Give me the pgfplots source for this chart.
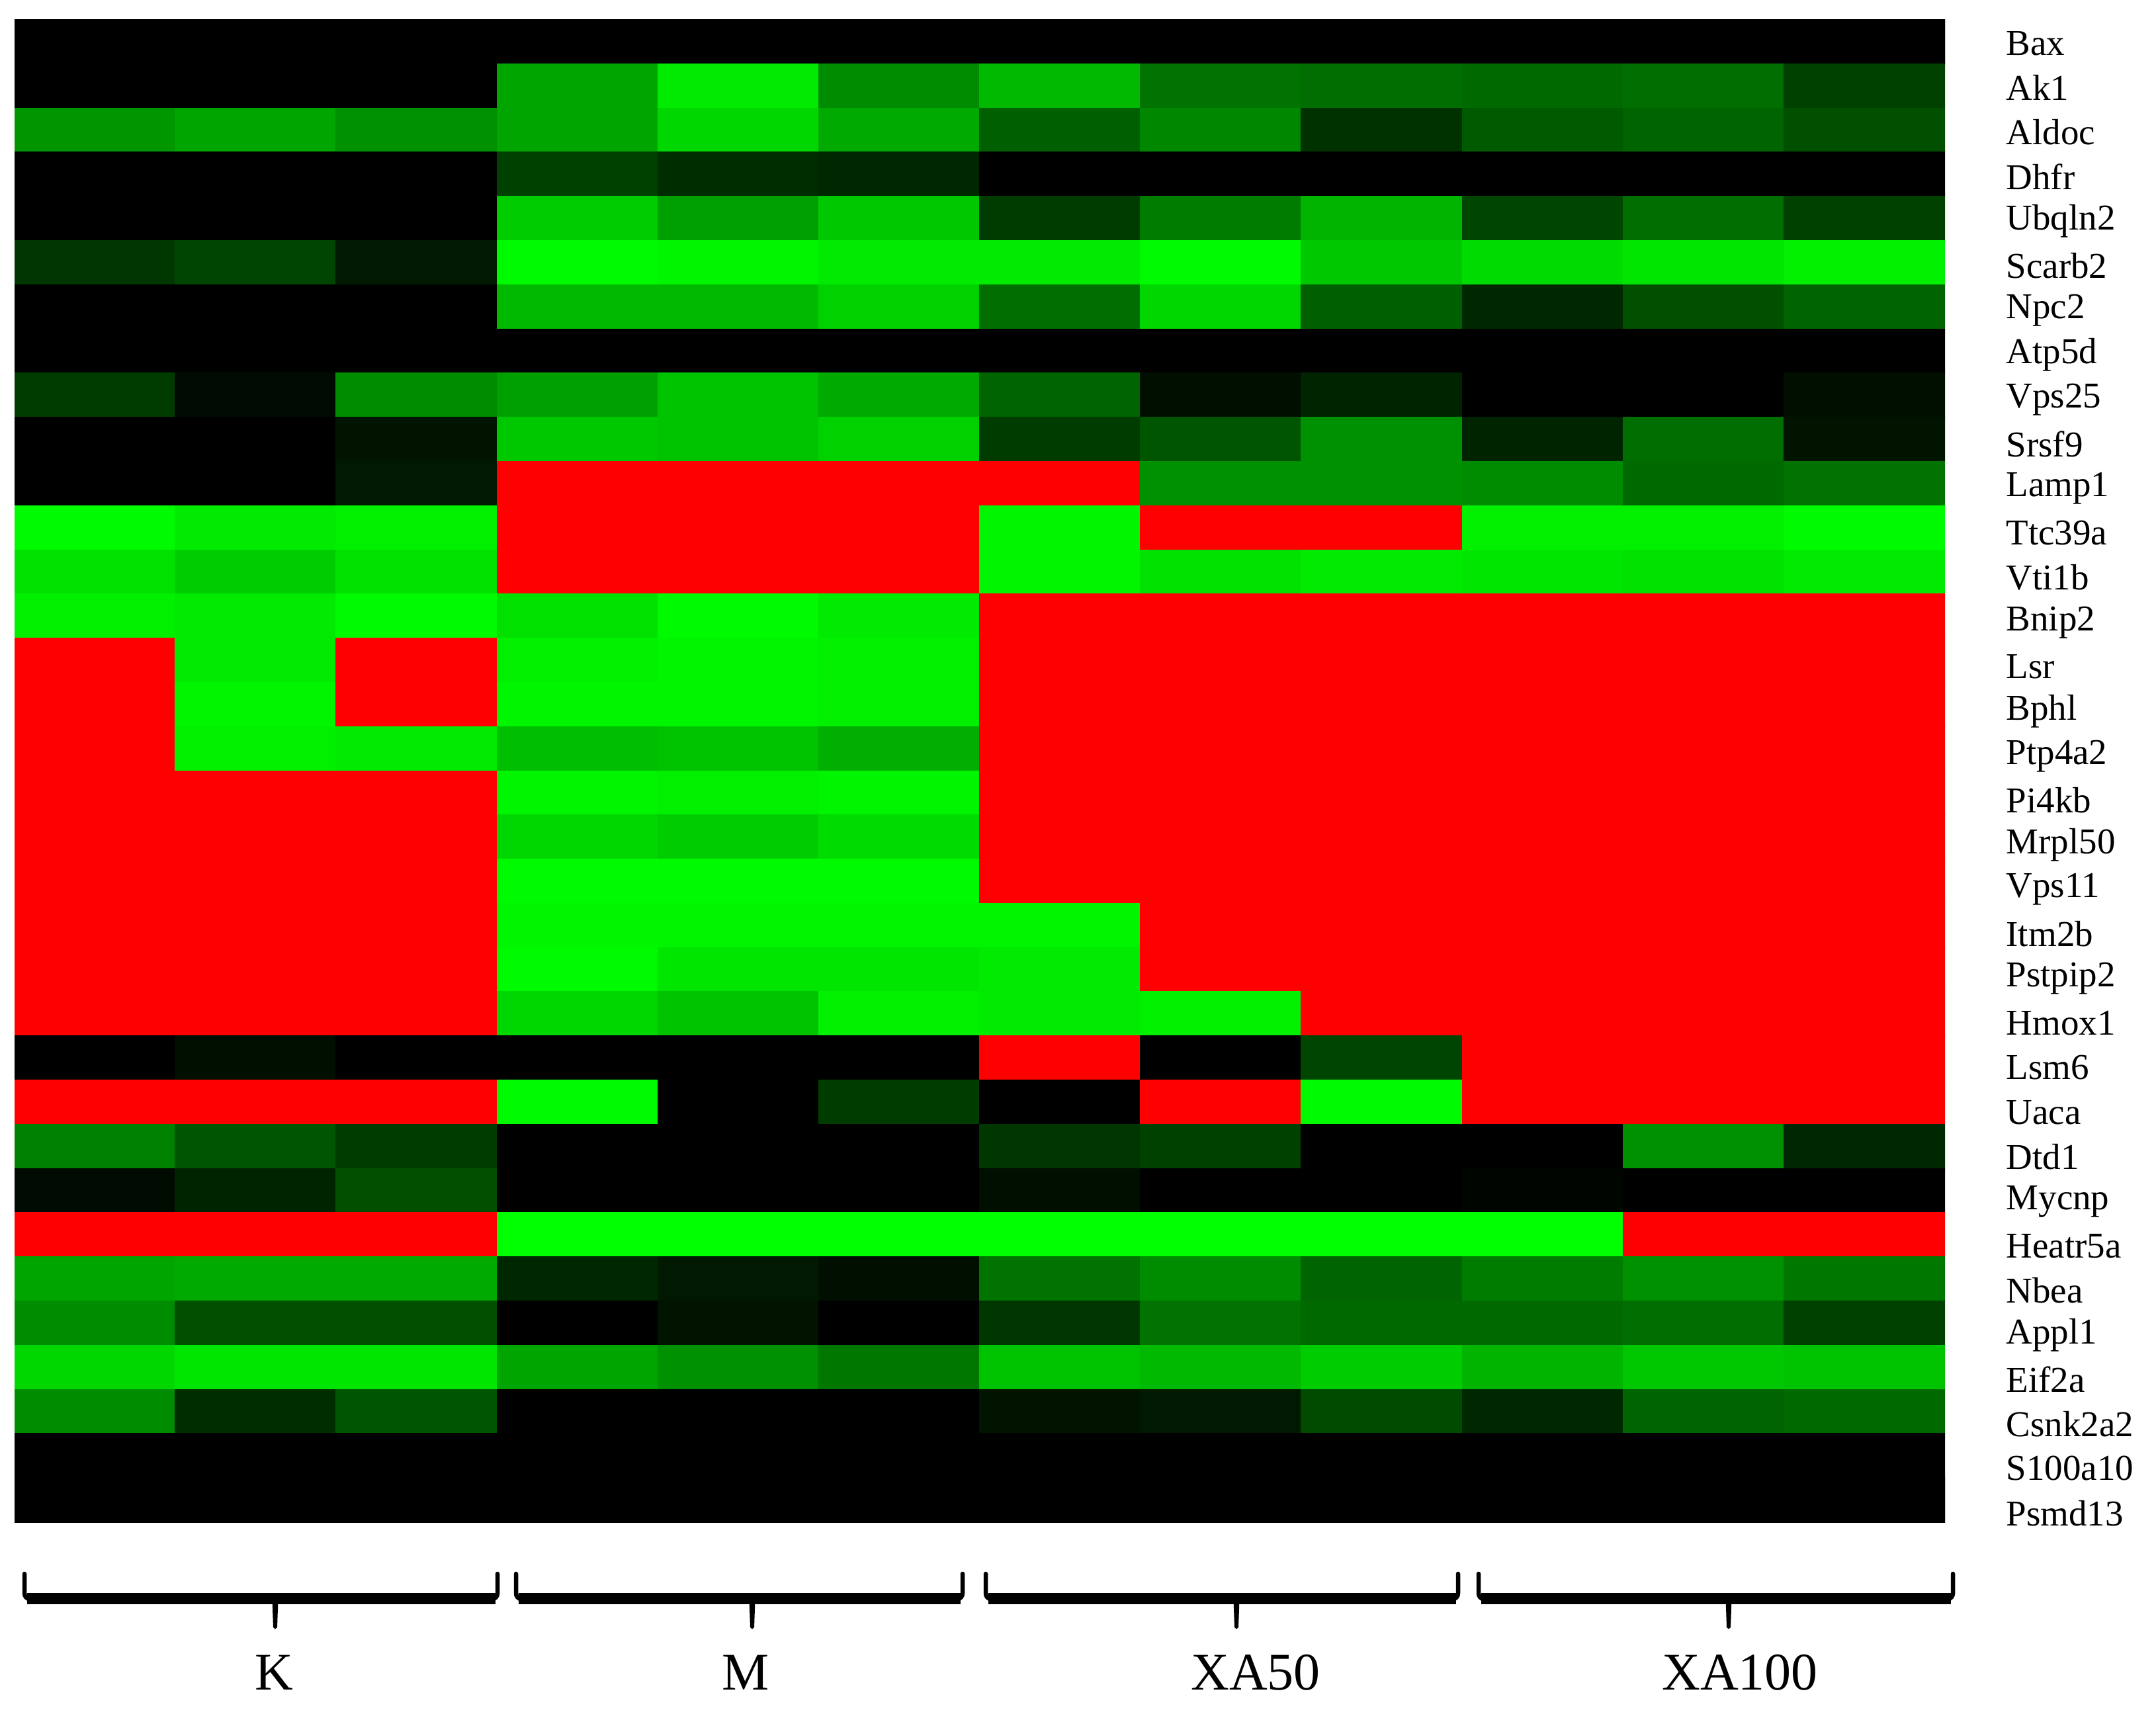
\documentclass[border=0pt]{standalone}
\usepackage{fontspec}
\setmainfont{Liberation Serif}
\usepackage{pgfplots}
\pgfplotsset{compat=1.18}
\begin{document}
\begin{tikzpicture}[x=1bp,y=1bp]
\begin{axis}[
  at={(0,0)}, anchor=south west,
  scale only axis, width=583.6bp, height=454.2bp,
  xmin=-0.5, xmax=11.5, ymin=-0.5, ymax=33.5, y dir=reverse,
  enlargelimits=false,
  axis line style={draw=none},
  major tick length=0pt,
  xtick=\empty,
  ytick={0.03,1.038,2.046,3.054,4.062,5.07,6.078,7.086,8.094,9.102,10.11,11.118,12.126,13.134,14.142,15.15,16.158,17.166,18.174,19.182,20.19,21.198,22.206,23.214,24.222,25.23,26.238,27.246,28.254,29.262,30.27,31.278,32.286,33.294},
  yticklabels={Bax,Ak1,Aldoc,Dhfr,Ubqln2,Scarb2,Npc2,Atp5d,Vps25,Srsf9,Lamp1,Ttc39a,Vti1b,Bnip2,Lsr,Bphl,Ptp4a2,Pi4kb,Mrpl50,Vps11,Itm2b,Pstpip2,Hmox1,Lsm6,Uaca,Dtd1,Mycnp,Heatr5a,Nbea,Appl1,Eif2a,Csnk2a2,S100a10,Psmd13},
  yticklabel pos=right,
  yticklabel style={anchor=west, xshift=15bp, font=\fontsize{11bp}{13bp}\selectfont},
  colormap={rg}{rgb255(0cm)=(255,0,0) rgb255(1cm)=(0,0,0) rgb255(2cm)=(0,255,0)},
  point meta min=-255, point meta max=255,
]
\addplot[matrix plot*, mesh/cols=12, point meta=explicit] coordinates {
(0,0)[0] (1,0)[0] (2,0)[0] (3,0)[0] (4,0)[0] (5,0)[0] (6,0)[0] (7,0)[0] (8,0)[0] (9,0)[0] (10,0)[0] (11,0)[0]
(0,1)[0] (1,1)[0] (2,1)[0] (3,1)[165] (4,1)[235] (5,1)[140] (6,1)[185] (7,1)[115] (8,1)[110] (9,1)[105] (10,1)[110] (11,1)[65]
(0,2)[150] (1,2)[165] (2,2)[145] (3,2)[165] (4,2)[215] (5,2)[170] (6,2)[95] (7,2)[135] (8,2)[50] (9,2)[90] (10,2)[100] (11,2)[80]
(0,3)[0] (1,3)[0] (2,3)[0] (3,3)[65] (4,3)[45] (5,3)[40] (6,3)[0] (7,3)[0] (8,3)[0] (9,3)[0] (10,3)[0] (11,3)[0]
(0,4)[0] (1,4)[0] (2,4)[0] (3,4)[205] (4,4)[160] (5,4)[200] (6,4)[60] (7,4)[125] (8,4)[180] (9,4)[70] (10,4)[110] (11,4)[65]
(0,5)[55] (1,5)[70] (2,5)[25] (3,5)[250] (4,5)[245] (5,5)[235] (6,5)[235] (7,5)[250] (8,5)[200] (9,5)[220] (10,5)[230] (11,5)[240]
(0,6)[0] (1,6)[0] (2,6)[0] (3,6)[185] (4,6)[185] (5,6)[210] (6,6)[110] (7,6)[215] (8,6)[95] (9,6)[40] (10,6)[80] (11,6)[100]
(0,7)[0] (1,7)[0] (2,7)[0] (3,7)[0] (4,7)[0] (5,7)[0] (6,7)[0] (7,7)[0] (8,7)[0] (9,7)[0] (10,7)[0] (11,7)[0]
(0,8)[60] (1,8)[10] (2,8)[140] (3,8)[160] (4,8)[195] (5,8)[170] (6,8)[100] (7,8)[15] (8,8)[35] (9,8)[0] (10,8)[0] (11,8)[15]
(0,9)[0] (1,9)[0] (2,9)[20] (3,9)[200] (4,9)[195] (5,9)[210] (6,9)[60] (7,9)[85] (8,9)[145] (9,9)[35] (10,9)[110] (11,9)[20]
(0,10)[0] (1,10)[0] (2,10)[25] (3,10)[-255] (4,10)[-255] (5,10)[-255] (6,10)[-255] (7,10)[145] (8,10)[145] (9,10)[140] (10,10)[105] (11,10)[115]
(0,11)[250] (1,11)[235] (2,11)[240] (3,11)[-255] (4,11)[-255] (5,11)[-255] (6,11)[245] (7,11)[-255] (8,11)[-255] (9,11)[240] (10,11)[240] (11,11)[250]
(0,12)[225] (1,12)[205] (2,12)[225] (3,12)[-255] (4,12)[-255] (5,12)[-255] (6,12)[245] (7,12)[225] (8,12)[235] (9,12)[230] (10,12)[225] (11,12)[235]
(0,13)[240] (1,13)[235] (2,13)[250] (3,13)[225] (4,13)[250] (5,13)[235] (6,13)[-255] (7,13)[-255] (8,13)[-255] (9,13)[-255] (10,13)[-255] (11,13)[-255]
(0,14)[-255] (1,14)[235] (2,14)[-255] (3,14)[240] (4,14)[245] (5,14)[240] (6,14)[-255] (7,14)[-255] (8,14)[-255] (9,14)[-255] (10,14)[-255] (11,14)[-255]
(0,15)[-255] (1,15)[245] (2,15)[-255] (3,15)[245] (4,15)[245] (5,15)[240] (6,15)[-255] (7,15)[-255] (8,15)[-255] (9,15)[-255] (10,15)[-255] (11,15)[-255]
(0,16)[-255] (1,16)[240] (2,16)[235] (3,16)[190] (4,16)[195] (5,16)[175] (6,16)[-255] (7,16)[-255] (8,16)[-255] (9,16)[-255] (10,16)[-255] (11,16)[-255]
(0,17)[-255] (1,17)[-255] (2,17)[-255] (3,17)[245] (4,17)[240] (5,17)[245] (6,17)[-255] (7,17)[-255] (8,17)[-255] (9,17)[-255] (10,17)[-255] (11,17)[-255]
(0,18)[-255] (1,18)[-255] (2,18)[-255] (3,18)[215] (4,18)[205] (5,18)[220] (6,18)[-255] (7,18)[-255] (8,18)[-255] (9,18)[-255] (10,18)[-255] (11,18)[-255]
(0,19)[-255] (1,19)[-255] (2,19)[-255] (3,19)[250] (4,19)[250] (5,19)[250] (6,19)[-255] (7,19)[-255] (8,19)[-255] (9,19)[-255] (10,19)[-255] (11,19)[-255]
(0,20)[-255] (1,20)[-255] (2,20)[-255] (3,20)[245] (4,20)[245] (5,20)[245] (6,20)[245] (7,20)[-255] (8,20)[-255] (9,20)[-255] (10,20)[-255] (11,20)[-255]
(0,21)[-255] (1,21)[-255] (2,21)[-255] (3,21)[250] (4,21)[230] (5,21)[230] (6,21)[235] (7,21)[-255] (8,21)[-255] (9,21)[-255] (10,21)[-255] (11,21)[-255]
(0,22)[-255] (1,22)[-255] (2,22)[-255] (3,22)[215] (4,22)[195] (5,22)[240] (6,22)[235] (7,22)[240] (8,22)[-255] (9,22)[-255] (10,22)[-255] (11,22)[-255]
(0,23)[0] (1,23)[15] (2,23)[0] (3,23)[0] (4,23)[0] (5,23)[0] (6,23)[-255] (7,23)[0] (8,23)[70] (9,23)[-255] (10,23)[-255] (11,23)[-255]
(0,24)[-255] (1,24)[-255] (2,24)[-255] (3,24)[250] (4,24)[0] (5,24)[60] (6,24)[0] (7,24)[-255] (8,24)[250] (9,24)[-255] (10,24)[-255] (11,24)[-255]
(0,25)[130] (1,25)[85] (2,25)[60] (3,25)[0] (4,25)[0] (5,25)[0] (6,25)[55] (7,25)[65] (8,25)[0] (9,25)[0] (10,25)[145] (11,25)[40]
(0,26)[10] (1,26)[35] (2,26)[80] (3,26)[0] (4,26)[0] (5,26)[0] (6,26)[15] (7,26)[0] (8,26)[0] (9,26)[5] (10,26)[0] (11,26)[0]
(0,27)[-255] (1,27)[-255] (2,27)[-255] (3,27)[255] (4,27)[255] (5,27)[255] (6,27)[255] (7,27)[255] (8,27)[255] (9,27)[255] (10,27)[-255] (11,27)[-255]
(0,28)[165] (1,28)[170] (2,28)[170] (3,28)[40] (4,28)[25] (5,28)[15] (6,28)[115] (7,28)[140] (8,28)[100] (9,28)[125] (10,28)[145] (11,28)[120]
(0,29)[140] (1,29)[80] (2,29)[80] (3,29)[0] (4,29)[20] (5,29)[0] (6,29)[55] (7,29)[115] (8,29)[105] (9,29)[105] (10,29)[110] (11,29)[65]
(0,30)[215] (1,30)[230] (2,30)[230] (3,30)[165] (4,30)[145] (5,30)[120] (6,30)[195] (7,30)[185] (8,30)[205] (9,30)[180] (10,30)[200] (11,30)[195]
(0,31)[140] (1,31)[45] (2,31)[85] (3,31)[0] (4,31)[0] (5,31)[0] (6,31)[20] (7,31)[25] (8,31)[75] (9,31)[40] (10,31)[100] (11,31)[105]
(0,32)[0] (1,32)[0] (2,32)[0] (3,32)[0] (4,32)[0] (5,32)[0] (6,32)[0] (7,32)[0] (8,32)[0] (9,32)[0] (10,32)[0] (11,32)[0]
(0,33)[0] (1,33)[0] (2,33)[0] (3,33)[0] (4,33)[0] (5,33)[0] (6,33)[0] (7,33)[0] (8,33)[0] (9,33)[0] (10,33)[0] (11,33)[0]
};
\end{axis}
% group braces
\foreach \xa/\xb/\xc/\lab/\lx in {3/146/78.8/K/78.4, 151.6/286.6/223/M/221, 293.6/436.4/369.4/XA50/375.2, 442.6/586/518.2/XA100/521.6}{
  \draw[line width=1.3bp, line cap=round] (\xa,-15.6) -- (\xa,-21.5) to[out=-90,in=180] (\xa+1.5,-23.2);
  \draw[line width=1.3bp, line cap=round] (\xb,-15.6) -- (\xb,-21.5) to[out=-90,in=0] (\xb-1.5,-23.2);
  \draw[line width=3.4bp] (\xa+0.7,-23.2) -- (\xb-0.7,-23.2);
  \fill (\xc-0.9,-23.2) -- (\xc+0.9,-23.2) -- (\xc+0.6,-31.8) -- (\xc,-32.3) -- (\xc-0.6,-31.8) -- cycle;
  \node[font=\fontsize{16bp}{18bp}\selectfont, inner sep=0pt] at (\lx,-45.4) {\lab};
}
\path (-4.4,-59.2) rectangle (647.4,460.2);
\end{tikzpicture}
\end{document}
